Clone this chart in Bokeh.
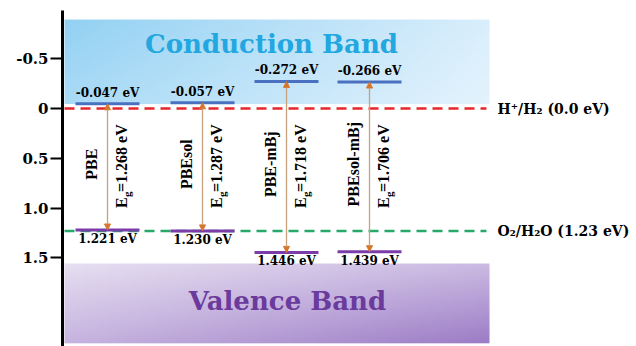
import numpy as np
from bokeh.plotting import figure
from bokeh.models import (Range1d, FixedTicker, Arrow, NormalHead,
                          ColumnDataSource, Label)
from bokeh.core.properties import value
from bokeh.embed import file_html
from bokeh.resources import INLINE

# ---- band-edge data (eV vs. NHE) ----
methods = ["PBE", "PBEsol", "PBE-mBj", "PBEsol-mBj"]
cbm = [-0.047, -0.057, -0.272, -0.266]
vbm = [1.221, 1.230, 1.446, 1.439]
gap = [1.268, 1.287, 1.718, 1.706]

h_level = 0.0    # H+/H2
o_level = 1.23   # O2/H2O

ticks = [-0.5, 0.0, 0.5, 1.0, 1.5]
tick_labels = ["-0.5", "0", "0.5", "1.0", "1.5"]

# ---- layout (screen-like x units, 1 unit = 1 px) ----
slot_x = [107, 202, 286, 369]
bar_half = 32
band_x0, band_x1 = 64, 489
cb_top, cb_bottom = -0.894, -0.045
vb_top, vb_bottom = 1.558, 2.36

W, H = 636, 346
p = figure(width=W, height=H, output_backend="svg", toolbar_location=None,
           x_range=Range1d(62, 636), y_range=Range1d(2.392, -0.985),
           min_border_left=62, min_border_right=0, min_border_top=10,
           min_border_bottom=0)
p.outline_line_color = None
p.grid.visible = False
p.xaxis.visible = False
p.background_fill_color = "white"
p.border_fill_color = "white"

ax = p.yaxis[0]
ax.ticker = FixedTicker(ticks=ticks)
ax.major_label_overrides = {t: l for t, l in zip(ticks, tick_labels)}
ax.minor_tick_line_color = None
ax.axis_line_width = 3
ax.axis_line_color = "black"
ax.major_tick_line_width = 2
ax.major_tick_out = 12
ax.major_tick_in = 0
ax.major_label_standoff = 2
ax.major_label_text_font = "DejaVu Serif"
ax.major_label_text_font_style = "bold"
ax.major_label_text_font_size = "15px"
ax.major_label_text_color = "black"


def gradient(w, h, tl, tr, bl, br):
    """Bilinear RGBA gradient between four corner colours."""
    c = [np.array([int(s[i:i + 2], 16) for i in (1, 3, 5)], float)
         for s in (tl, tr, bl, br)]
    u = np.linspace(0, 1, w)[None, :, None]
    v = np.linspace(0, 1, h)[:, None, None]
    top = c[0] * (1 - u) + c[1] * u
    bot = c[2] * (1 - u) + c[3] * u
    rgb = top * (1 - v) + bot * v
    img = np.empty((h, w), dtype=np.uint32)
    view = img.view(dtype=np.uint8).reshape((h, w, 4))
    view[:, :, :3] = rgb.astype(np.uint8)
    view[:, :, 3] = 255
    return img


cb_img = gradient(120, 40, "#93d1f3", "#d9eefc", "#aadbf6", "#e4f3fd")
vb_img = gradient(120, 40, "#e6dff1", "#cbbae2", "#c6b3df", "#9c7cc6")
p.image_rgba(image=[cb_img], x=band_x0, y=cb_top,
             dw=band_x1 - band_x0, dh=cb_bottom - cb_top)
p.image_rgba(image=[vb_img], x=band_x0, y=vb_top,
             dw=band_x1 - band_x0, dh=vb_bottom - vb_top)

p.add_layout(Label(x=271, y=-0.65, text="Conduction Band",
                   text_align="center", text_baseline="middle",
                   text_font="DejaVu Serif", text_font_style="bold",
                   text_font_size="26px", text_color="#22a7e0"))
p.add_layout(Label(x=287, y=1.93, text="Valence Band",
                   text_align="center", text_baseline="middle",
                   text_font="DejaVu Serif", text_font_style="bold",
                   text_font_size="26px", text_color="#6a3a9c"))

# ---- redox potential levels ----
redox = ColumnDataSource(dict(y=[h_level, o_level],
                              color=["#e5262b", "#25a96c"],
                              label=[f"H\u207a/H\u2082 ({h_level:.1f} eV)",
                                     f"O\u2082/H\u2082O ({o_level:.2f} eV)"]))
p.segment(x0=64, x1=486, y0="y", y1="y", line_color="color",
          line_width=2.5, line_dash="10 6", source=redox)
p.text(x=497, y="y", text="label", source=redox, text_align="left",
       text_baseline="middle", text_font=value("DejaVu Serif"),
       text_font_style="bold", text_font_size="14px", text_color="black")

# ---- band edges ----
xs = np.array(slot_x, float)
src = ColumnDataSource(dict(
    x=xs, x0=xs - bar_half, x1=xs + bar_half,
    cbm=cbm, vbm=vbm, method=methods,
    cb_lab=[f"{v:.3f} eV" for v in cbm],
    vb_lab=[f"{v:.3f} eV" for v in vbm],
    eg_lab=[f"={g:.3f} eV" for g in gap],
    name_x=xs - 16, eg_x=xs + 14,
    name_y=[0.56] * 4, eg_y=[1.0] * 4,
))

p.add_layout(Arrow(
    start=NormalHead(size=6, fill_color="#d6772c", line_color="#d6772c"),
    end=NormalHead(size=6, fill_color="#d6772c", line_color="#d6772c"),
    x_start="x", y_start="vbm", x_end="x", y_end="cbm",
    line_color="#c9a07c", line_width=1.3, source=src))

p.segment(x0="x0", x1="x1", y0="cbm", y1="cbm", line_color="#4a70c0",
          line_width=3, source=src)
p.segment(x0="x0", x1="x1", y0="vbm", y1="vbm", line_color="#7b3daa",
          line_width=3, source=src)

p.text(x="x", y="cbm", text="cb_lab", source=src, y_offset=-11,
       text_align="center", text_baseline="middle",
       text_font=value("DejaVu Serif"), text_font_style="bold",
       text_font_size="12px", text_color="black")
p.text(x="x", y="vbm", text="vb_lab", source=src, y_offset=9,
       text_align="center", text_baseline="middle",
       text_font=value("DejaVu Serif"), text_font_style="bold",
       text_font_size="12px", text_color="black")

# rotated method names and band-gap labels (E with subscript g)
rot = dict(angle=np.pi / 2, text_baseline="middle",
           text_font=value("Liberation Serif"), text_font_style="bold",
           text_color="black", source=src)
p.text(x="name_x", y="name_y", text="method", text_align="center",
       text_font_size="16px", **rot)
p.text(x="eg_x", y="eg_y", text=value("E"), text_align="left",
       text_font_size="16px", **rot)
p.text(x="eg_x", y="eg_y", text=value("g"), text_align="left",
       text_font_size="11px", x_offset=5, y_offset=-11, **rot)
p.text(x="eg_x", y="eg_y", text="eg_lab", text_align="left",
       text_font_size="16px", y_offset=-16, **rot)

open("out.html", "w").write(file_html(p, INLINE))
